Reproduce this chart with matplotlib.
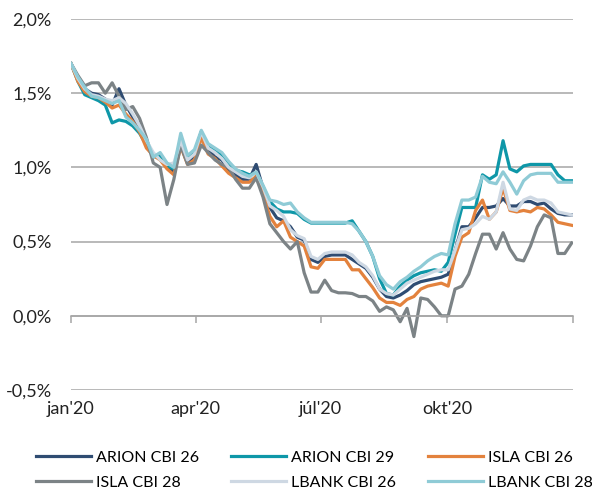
import matplotlib
matplotlib.use("Agg")
import matplotlib.pyplot as plt
from matplotlib.ticker import FuncFormatter
import numpy as np

plt.rcParams['font.family'] = ['Lato', 'DejaVu Sans']

days = list(range(0, 366, 5))

arion_cbi_26 = [1.70, 1.60, 1.53, 1.50, 1.49, 1.46, 1.42, 1.53, 1.42, 1.34, 1.27, 1.18, 1.08, 1.06, 1.00,
                0.97, 1.15, 1.03, 1.08, 1.24, 1.12, 1.07, 1.05, 0.98, 0.95, 0.92, 0.92, 1.02, 0.86, 0.73,
                0.66, 0.64, 0.60, 0.53, 0.51, 0.38, 0.36, 0.40, 0.41, 0.41, 0.41, 0.38, 0.35, 0.32, 0.26,
                0.18, 0.13, 0.12, 0.14, 0.17, 0.21, 0.23, 0.24, 0.25, 0.26, 0.28, 0.44, 0.60, 0.60, 0.66,
                0.73, 0.73, 0.74, 0.79, 0.74, 0.74, 0.77, 0.77, 0.75, 0.76, 0.72, 0.69, 0.68, 0.68]
arion_cbi_29 = [1.70, 1.58, 1.49, 1.47, 1.45, 1.42, 1.30, 1.32, 1.31, 1.28, 1.23, 1.15, 1.07, 1.08, 1.01,
                0.99, 1.19, 1.06, 1.10, 1.24, 1.14, 1.11, 1.08, 1.03, 0.98, 0.97, 0.95, 0.96, 0.87, 0.77,
                0.72, 0.70, 0.70, 0.69, 0.65, 0.625, 0.625, 0.625, 0.625, 0.625, 0.625, 0.64, 0.57, 0.50, 0.40,
                0.25, 0.15, 0.14, 0.20, 0.24, 0.27, 0.29, 0.30, 0.31, 0.30, 0.36, 0.55, 0.73, 0.73, 0.73,
                0.95, 0.92, 0.95, 1.18, 0.99, 0.97, 1.01, 1.02, 1.02, 1.02, 1.02, 0.95, 0.91, 0.91]
isla_cbi_26 = [1.70, 1.58, 1.51, 1.48, 1.47, 1.44, 1.40, 1.42, 1.36, 1.31, 1.24, 1.13, 1.08, 1.05, 0.99,
               0.95, 1.14, 1.02, 1.05, 1.20, 1.09, 1.06, 1.01, 0.96, 0.93, 0.90, 0.90, 0.94, 0.82, 0.67,
               0.60, 0.64, 0.53, 0.50, 0.47, 0.33, 0.32, 0.38, 0.38, 0.38, 0.38, 0.31, 0.31, 0.25, 0.19,
               0.12, 0.09, 0.09, 0.07, 0.11, 0.13, 0.18, 0.20, 0.21, 0.22, 0.20, 0.40, 0.53, 0.56, 0.71,
               0.78, 0.65, 0.70, 0.86, 0.71, 0.70, 0.71, 0.70, 0.73, 0.72, 0.68, 0.63, 0.62, 0.61]
isla_cbi_28 = [1.70, 1.62, 1.55, 1.57, 1.57, 1.50, 1.57, 1.48, 1.39, 1.41, 1.33, 1.20, 1.03, 1.00, 0.75,
               0.92, 1.15, 1.02, 1.03, 1.15, 1.10, 1.05, 1.02, 1.00, 0.92, 0.86, 0.86, 0.93, 0.80, 0.62,
               0.56, 0.50, 0.45, 0.50, 0.29, 0.16, 0.16, 0.24, 0.17, 0.155, 0.155, 0.15, 0.13, 0.13, 0.10,
               0.03, 0.06, 0.04, -0.04, 0.05, -0.14, 0.12, 0.11, 0.06, 0.00, 0.00, 0.18, 0.20, 0.28, 0.42,
               0.55, 0.55, 0.45, 0.56, 0.45, 0.38, 0.37, 0.47, 0.60, 0.68, 0.66, 0.42, 0.42, 0.49]
lbank_cbi_26 = [1.70, 1.60, 1.53, 1.49, 1.48, 1.46, 1.45, 1.47, 1.43, 1.36, 1.28, 1.18, 1.10, 1.05, 1.02,
                1.03, 1.18, 1.05, 1.09, 1.24, 1.13, 1.10, 1.06, 1.00, 0.97, 0.94, 0.93, 0.97, 0.87, 0.74,
                0.71, 0.67, 0.58, 0.54, 0.52, 0.40, 0.38, 0.42, 0.43, 0.43, 0.43, 0.41, 0.36, 0.33, 0.27,
                0.18, 0.15, 0.14, 0.18, 0.22, 0.24, 0.26, 0.28, 0.30, 0.31, 0.31, 0.44, 0.58, 0.59, 0.62,
                0.67, 0.65, 0.70, 0.90, 0.72, 0.71, 0.78, 0.80, 0.78, 0.78, 0.76, 0.70, 0.69, 0.68]
lbank_cbi_28 = [1.70, 1.61, 1.54, 1.48, 1.47, 1.45, 1.43, 1.45, 1.34, 1.30, 1.25, 1.19, 1.07, 1.10, 1.03,
                1.00, 1.23, 1.08, 1.12, 1.25, 1.16, 1.13, 1.10, 1.04, 0.99, 0.96, 0.94, 0.97, 0.88, 0.78,
                0.77, 0.75, 0.76, 0.70, 0.66, 0.63, 0.63, 0.63, 0.63, 0.63, 0.63, 0.62, 0.57, 0.50, 0.40,
                0.27, 0.21, 0.18, 0.23, 0.26, 0.30, 0.33, 0.37, 0.40, 0.42, 0.41, 0.62, 0.78, 0.78, 0.80,
                0.94, 0.90, 0.89, 0.97, 0.90, 0.82, 0.91, 0.95, 0.96, 0.96, 0.96, 0.90, 0.90, 0.90]

series_names = ["ARION CBI 26", "ARION CBI 29", "ISLA CBI 26", "ISLA CBI 28", "LBANK CBI 26", "LBANK CBI 28"]
series_values = [arion_cbi_26, arion_cbi_29, isla_cbi_26, isla_cbi_28, lbank_cbi_26, lbank_cbi_28]
colors = ["#2F4C72", "#0E97A8", "#E3823D", "#7C8386", "#CED8E3", "#8FCBD6"]

tick_days = [0, 91, 182, 274, 366]
tick_labels = ["jan'20", "apr'20", "júl'20", "okt'20", ""]
y_ticks = [-0.5, 0.0, 0.5, 1.0, 1.5, 2.0]

fig = plt.figure(figsize=(5.92, 4.93), dpi=100)
ax = fig.add_axes([71/592, 1 - 390/493, (573-71)/592, (390-19)/493])

handles = []
for name, vals, c in zip(series_names, series_values, colors):
    h, = ax.plot(days, vals, color=c, lw=2.3, label=name, solid_joinstyle='round')
    handles.append(h)

ax.set_xlim(0, 366)
ax.set_ylim(-0.5, 2.0)
ax.set_yticks(y_ticks)
ax.yaxis.set_major_formatter(FuncFormatter(lambda v, p: f"{v:.1f}%".replace(".", ",")))
ax.grid(axis='y', color='#A6A6A6', lw=1.1)
ax.set_axisbelow(True)
for s in ['top', 'right', 'left']:
    ax.spines[s].set_visible(False)
ax.spines['bottom'].set_position(('data', 0))
ax.spines['bottom'].set_color('#A6A6A6')
ax.spines['bottom'].set_linewidth(1.1)
ax.set_xticks(tick_days)
ax.tick_params(axis='x', direction='out', length=5, width=1.1, color='#A6A6A6', labelbottom=False)
ax.tick_params(axis='y', length=0, pad=14, labelsize=13, labelcolor='#222222')

sec = ax.secondary_xaxis(0)
sec.set_xticks(tick_days)
sec.set_xticklabels(tick_labels)
sec.spines['bottom'].set_visible(False)
sec.tick_params(axis='x', length=0, pad=8, labelsize=13, labelcolor='#222222')

order = [0, 3, 1, 4, 2, 5]
fig.legend([handles[i] for i in order], [series_names[i] for i in order],
           loc='upper left', bbox_to_anchor=(30/592, 1 - 444/493), ncol=3, frameon=False,
           fontsize=11.5, handlelength=3.4, handletextpad=0.35, columnspacing=2.0,
           labelspacing=0.7, borderaxespad=0, borderpad=0.4)

fig.savefig("out.png", dpi=100)
